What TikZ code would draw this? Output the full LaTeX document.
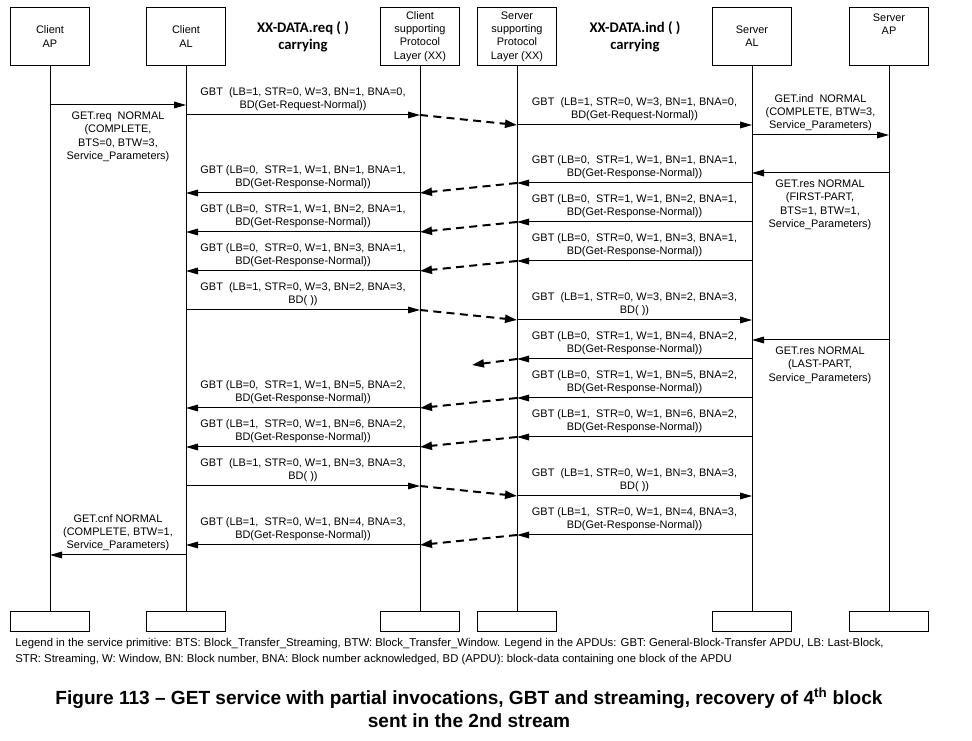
\documentclass[tikz,border=0pt]{standalone}
\usepackage{fontspec}
\setmainfont{Liberation Sans}
\newfontfamily\headfont{Carlito}
\usetikzlibrary{arrows.meta}
\tikzset{
  lifebox/.style = {draw, line width=0.75pt, minimum width=59pt, minimum height=44pt,
                    inner sep=1pt, align=center, font=\fontsize{8.2}{10}\selectfont},
  endbox/.style  = {draw, line width=0.75pt, minimum width=59pt, minimum height=15pt},
  life/.style    = {line width=0.75pt},
  msg/.style     = {line width=0.75pt, -{Triangle[length=9pt,width=5pt]}},
  lost/.style    = {line width=1.5pt, dash pattern=on 6pt off 4pt, -{Triangle[length=9pt,width=6pt]}},
  lbl/.style     = {align=center, inner sep=0pt, font=\fontsize{8.2}{9.8}\selectfont}
}
% message: from x, to x, y, name, label
\newcommand{\msg}[5]{%
  \coordinate (#4s) at (#1,#3);
  \coordinate (#4e) at (#2,#3);
  \draw[msg] (#4s) -- (#4e);
  \node[lbl, anchor=south] (#4t) at ($(#4s)!0.5!(#4e)+(0,-4)$) {#5};}
\usetikzlibrary{calc}
\begin{document}
\begin{tikzpicture}[x=0.75pt, y=-0.75pt]
	\useasboundingbox (0,0) rectangle (972,741);
	\def\xCAP{50}
	\def\xCAL{186}
	\def\xCPL{420}
	\def\xSPL{517}
	\def\xSAL{752}
	\def\xSAP{889}

	% Lifelines
	\foreach \name/\x/\txt in {cap/\xCAP/{Client\\AP}, cal/\xCAL/{Client\\AL},
	                           cpl/\xCPL/{Client\\supporting\\Protocol\\Layer (XX)},
	                           spl/\xSPL/{Server\\supporting\\Protocol\\Layer (XX)},
	                           sal/\xSAL/{Server\\AL}, sap/\xSAP/{Server\\AP\\[8pt]}} {
		\node[lifebox] (\name top) at (\x,36.5) {\txt};
		\node[endbox] (\name bot) at (\x,622) {};
		\draw[life] (\name top.south) -- (\name bot.north);
	}

	% Headings
	\node[align=center, font=\headfont\bfseries\fontsize{11}{13}\selectfont] (reqhead) at (303,37) {XX-DATA.req ( )\\carrying};
	\node[align=center, font=\headfont\bfseries\fontsize{11}{13}\selectfont] (indhead) at (635,37) {XX-DATA.ind ( )\\carrying};

	% Request
	\coordinate (greqs) at (\xCAP,105);
	\coordinate (greqe) at (\xCAL,105);
	\draw[msg] (greqs) -- (greqe);
	\node[lbl, anchor=north] (greqt) at (118,112) {GET.req\ \ NORMAL\\(COMPLETE,\\BTS=0, BTW=3,\\Service\_Parameters)};
	\msg{\xCAL}{\xCPL}{115}{c1}{GBT\ \ (LB=1, STR=0, W=3, BN=1, BNA=0,\\BD(Get-Request-Normal))}
	\draw[lost] (c1e) -- (\xSPL,125) coordinate (s1s);
	\msg{\xSPL}{\xSAL}{125}{s1}{GBT\ \ (LB=1, STR=0, W=3, BN=1, BNA=0,\\BD(Get-Request-Normal))}
	\msg{\xSAL}{\xSAP}{135}{ind}{GET.ind\ \ NORMAL\\(COMPLETE, BTW=3,\\Service\_Parameters)}

	% First stream
	\coordinate (res1s) at (\xSAP,173);
	\coordinate (res1e) at (\xSAL,173);
	\draw[msg] (res1s) -- (res1e);
	\node[lbl, anchor=north] (res1t) at (820,180) {GET.res NORMAL\\(FIRST-PART,\\BTS=1, BTW=1,\\Service\_Parameters)};
	\foreach \y/\bn/\str/\lb in {183/1/1/0, 222/2/1/0, 261/3/0/0} {
		\msg{\xSAL}{\xSPL}{\y}{s\bn r}{GBT (LB=\lb,\ \ STR=\str, W=1, BN=\bn, BNA=1,\\BD(Get-Response-Normal))}
		\draw[lost] (s\bn re) -- (\xCPL,\y+10) coordinate (c\bn rs);
		\msg{\xCPL}{\xCAL}{\y+10}{c\bn r}{GBT (LB=\lb,\ \ STR=\str, W=1, BN=\bn, BNA=1,\\BD(Get-Response-Normal))}
	}

	% Acknowledgement
	\msg{\xCAL}{\xCPL}{310}{c2}{GBT\ \ (LB=1, STR=0, W=3, BN=2, BNA=3,\\BD( ))}
	\draw[lost] (c2e) -- (\xSPL,320);
	\msg{\xSPL}{\xSAL}{320}{s2}{GBT\ \ (LB=1, STR=0, W=3, BN=2, BNA=3,\\BD( ))}

	% Second stream
	\coordinate (res2s) at (\xSAP,340);
	\coordinate (res2e) at (\xSAL,340);
	\draw[msg] (res2s) -- (res2e);
	\node[lbl, anchor=north] (res2t) at (820,347) {GET.res NORMAL\\(LAST-PART,\\Service\_Parameters)};
	\msg{\xSAL}{\xSPL}{359}{s4r}{GBT (LB=0,\ \ STR=1, W=1, BN=4, BNA=2,\\BD(Get-Response-Normal))}
	\coordinate (lost4) at (472,365);
	\draw[lost] (s4re) -- (lost4);
	\foreach \y/\bn/\str/\lb in {398/5/1/0, 437/6/0/1} {
		\msg{\xSAL}{\xSPL}{\y}{s\bn r}{GBT (LB=\lb,\ \ STR=\str, W=1, BN=\bn, BNA=2,\\BD(Get-Response-Normal))}
		\draw[lost] (s\bn re) -- (\xCPL,\y+10);
		\msg{\xCPL}{\xCAL}{\y+10}{c\bn r}{GBT (LB=\lb,\ \ STR=\str, W=1, BN=\bn, BNA=2,\\BD(Get-Response-Normal))}
	}

	% Recovery
	\msg{\xCAL}{\xCPL}{486}{c3}{GBT\ \ (LB=1, STR=0, W=1, BN=3, BNA=3,\\BD( ))}
	\draw[lost] (c3e) -- (\xSPL,496);
	\msg{\xSPL}{\xSAL}{496}{s3}{GBT\ \ (LB=1, STR=0, W=1, BN=3, BNA=3,\\BD( ))}
	\msg{\xSAL}{\xSPL}{535}{s7r}{GBT (LB=1,\ \ STR=0, W=1, BN=4, BNA=3,\\BD(Get-Response-Normal))}
	\draw[lost] (s7re) -- (\xCPL,545);
	\msg{\xCPL}{\xCAL}{545}{c7r}{GBT (LB=1,\ \ STR=0, W=1, BN=4, BNA=3,\\BD(Get-Response-Normal))}
	\msg{\xCAL}{\xCAP}{555}{cnf}{GET.cnf NORMAL\\(COMPLETE, BTW=1,\\Service\_Parameters)}

	% Legend and caption
	\node[anchor=north west, align=left, inner sep=0pt, font=\fontsize{8.5}{12}\selectfont] (legend) at (15,638)
		{Legend in the service primitive: BTS: Block\_Transfer\_Streaming, BTW: Block\_Transfer\_Window. Legend in the APDUs: GBT: General-Block-Transfer APDU, LB: Last-Block,\\
		 STR: Streaming, W: Window, BN: Block number, BNA: Block number acknowledged, BD (APDU): block-data containing one block of the APDU};
	\node[align=center, inner sep=0pt, font=\bfseries\fontsize{14.3}{17}\selectfont] (caption) at (469,708)
		{Figure 113 -- GET service with partial invocations, GBT and streaming, recovery of 4\textsuperscript{th} block\\sent in the 2nd stream};
\end{tikzpicture}
\end{document}
